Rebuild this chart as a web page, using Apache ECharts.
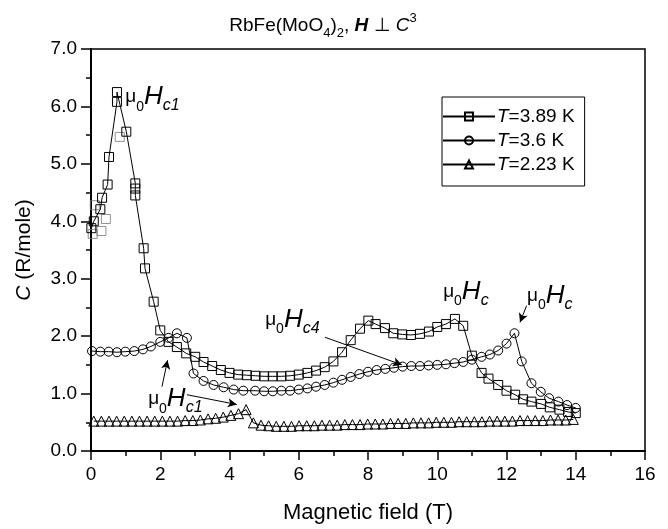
<!DOCTYPE html>
<html>
<head>
<meta charset="utf-8">
<script src="https://cdn.jsdelivr.net/npm/echarts@6/dist/echarts.min.js"></script>
<style>
  html, body { margin: 0; padding: 0; background: #fff; }
  #main { width: 668px; height: 529px; }
</style>
</head>
<body>
<div id="main"></div>
<script>
// Specific heat of RbFe(MoO4)2 versus magnetic field, H perpendicular to C3

// T = 3.89 K (squares)
const field389 = [0.01, 0.08, 0.27, 0.32, 0.48, 0.52, 0.75, 0.75, 1.02, 1.28, 1.28, 1.28, 1.52, 1.56, 1.81, 2.0, 2.24, 2.48, 2.75, 3.01, 3.25, 3.5, 3.75, 4.0, 4.25, 4.5, 4.75, 5.0, 5.25, 5.5, 5.75, 6.0, 6.25, 6.5, 6.75, 7.0, 7.25, 7.5, 7.77, 8.01, 8.22, 8.49, 8.73, 8.99, 9.24, 9.5, 9.76, 10.0, 10.25, 10.51, 10.75, 11.0, 11.28, 11.48, 11.76, 12.0, 12.25, 12.48, 12.72, 13.0, 13.25, 13.53, 13.78, 14.0];
const heat389  = [3.88, 4.0, 4.21, 4.41, 4.64, 5.12, 6.08, 6.25, 5.56, 4.66, 4.57, 4.45, 3.53, 3.18, 2.60, 2.10, 1.90, 1.81, 1.70, 1.64, 1.55, 1.48, 1.41, 1.36, 1.33, 1.32, 1.31, 1.30, 1.30, 1.30, 1.31, 1.33, 1.36, 1.40, 1.46, 1.56, 1.72, 1.93, 2.13, 2.27, 2.21, 2.14, 2.05, 2.03, 2.02, 2.04, 2.08, 2.16, 2.21, 2.30, 2.18, 1.66, 1.36, 1.26, 1.15, 1.05, 0.98, 0.90, 0.86, 0.82, 0.76, 0.72, 0.68, 0.66];

// T = 3.89 K, scattered low-field repeats (grey squares)
const field389b = [0.05, 0.11, 0.30, 0.43, 0.83];
const heat389b  = [3.78, 4.28, 3.83, 4.04, 5.47];

// T = 3.6 K (circles)
const field36 = [0.03, 0.27, 0.51, 0.75, 0.99, 1.25, 1.5, 1.73, 2.0, 2.24, 2.48, 2.77, 2.96, 3.25, 3.54, 3.83, 4.12, 4.4, 4.74, 5.0, 5.25, 5.5, 5.75, 6.0, 6.25, 6.5, 6.75, 7.0, 7.25, 7.5, 7.75, 8.0, 8.25, 8.5, 8.75, 9.0, 9.25, 9.5, 9.75, 10.0, 10.25, 10.5, 10.75, 11.0, 11.28, 11.52, 11.76, 12.0, 12.23, 12.44, 12.72, 12.99, 13.23, 13.5, 13.75, 14.0];
const heat36  = [1.74, 1.73, 1.73, 1.72, 1.73, 1.74, 1.77, 1.82, 1.90, 1.97, 2.05, 1.97, 1.35, 1.22, 1.15, 1.11, 1.07, 1.05, 1.05, 1.04, 1.04, 1.05, 1.05, 1.07, 1.09, 1.12, 1.15, 1.19, 1.24, 1.29, 1.34, 1.38, 1.41, 1.43, 1.45, 1.47, 1.48, 1.48, 1.49, 1.50, 1.51, 1.53, 1.55, 1.59, 1.64, 1.68, 1.75, 1.87, 2.05, 1.56, 1.18, 1.03, 0.92, 0.86, 0.80, 0.75];

// T = 2.23 K (triangles)
const field223 = [0.08, 0.30, 0.52, 0.74, 0.96, 1.18, 1.40, 1.62, 1.84, 2.06, 2.28, 2.50, 2.72, 2.94, 3.16, 3.38, 3.60, 3.82, 4.04, 4.26, 4.48, 4.69, 4.91, 5.13, 5.35, 5.57, 5.79, 6.01, 6.23, 6.45, 6.67, 6.89, 7.11, 7.33, 7.55, 7.77, 7.99, 8.21, 8.43, 8.65, 8.87, 9.09, 9.31, 9.53, 9.75, 9.97, 10.19, 10.41, 10.63, 10.85, 11.07, 11.29, 11.51, 11.73, 11.95, 12.17, 12.39, 12.61, 12.83, 13.05, 13.27, 13.49, 13.71, 13.93];
const heat223  = [0.52, 0.52, 0.52, 0.52, 0.52, 0.52, 0.52, 0.52, 0.52, 0.52, 0.52, 0.52, 0.53, 0.53, 0.54, 0.56, 0.57, 0.59, 0.62, 0.65, 0.72, 0.49, 0.45, 0.44, 0.43, 0.43, 0.43, 0.44, 0.44, 0.44, 0.45, 0.45, 0.45, 0.46, 0.46, 0.46, 0.47, 0.47, 0.47, 0.48, 0.48, 0.48, 0.49, 0.49, 0.49, 0.50, 0.50, 0.50, 0.51, 0.51, 0.51, 0.51, 0.52, 0.52, 0.52, 0.52, 0.53, 0.53, 0.53, 0.53, 0.54, 0.54, 0.54, 0.55];

// Axis ticks
const xTicks = { min: 0, max: 16, step: 2 };
const yTicks = { min: 0, max: 7, step: 1 };

// Annotation labels: [subscript, field, C] for the label's left-middle point
const labelAnchors = [
  ['c1', 0.99, 6.17],
  ['c4', 5.03, 2.29],
  ['c', 10.17, 2.78],
  ['c', 12.59, 2.71],
  ['c1', 1.65, 0.91]
];
// Arrows: [fromField, fromC, toField, toC]
const arrows = [
  [6.76, 1.98, 8.98, 1.50],
  [12.58, 2.53, 12.39, 2.24],
  [2.77, 0.98, 4.21, 0.81],
  [2.05, 1.12, 2.21, 1.58]
];

const FONT = 'Liberation Sans, Arial, Helvetica, sans-serif';

function zip(xs, ys) { return xs.map((x, i) => [x, ys[i]]); }

function lineSeries(name, xs, ys, symbol, size) {
  return {
    name: name,
    type: 'line',
    data: zip(xs, ys),
    symbol: symbol,
    symbolSize: size,
    showAllSymbol: true,
    animation: false,
    lineStyle: { color: '#000', width: 1 },
    itemStyle: { color: 'rgba(255,255,255,0)', borderColor: '#000', borderWidth: 1 },
    emphasis: { disabled: true },
    z: 3
  };
}

const chart = echarts.init(document.getElementById('main'));

const arrowSeries = {
  type: 'line',
  data: [],
  silent: true,
  animation: false,
  markLine: {
    silent: true,
    animation: false,
    symbol: ['none', 'arrow'],
    symbolSize: [7, 9],
    label: { show: false },
    lineStyle: { color: '#000', width: 1, type: 'solid' },
    emphasis: { disabled: true },
    data: arrows.map(a => [{ coord: [a[0], a[1]] }, { coord: [a[2], a[3]] }])
  }
};

const tickStyle = { color: '#000', width: 1.5 };

chart.setOption({
  backgroundColor: '#fff',
  animation: false,
  title: {
    text: 'RbFe(MoO{sub|4}){sub|2}, {bi|H} ⊥ {i|C}{sup|3}',
    left: 318,
    textAlign: 'center',
    top: 7,
    textStyle: {
      fontFamily: FONT, fontSize: 19, fontWeight: 'normal', color: '#000',
      rich: {
        sub: { fontFamily: FONT, fontSize: 13, color: '#000', verticalAlign: 'bottom', lineHeight: 28 },
        sup: { fontFamily: FONT, fontSize: 13, color: '#000', verticalAlign: 'top', lineHeight: 26 },
        bi: { fontFamily: FONT, fontSize: 19, fontWeight: 'bold', fontStyle: 'italic', color: '#000' },
        i: { fontFamily: FONT, fontSize: 19, fontStyle: 'italic', color: '#000' }
      }
    }
  },
  legend: {
    orient: 'vertical',
    left: 442,
    top: 97,
    itemWidth: 52,
    itemHeight: 10,
    itemGap: 5,
    padding: [10, 10, 12, 0],
    borderColor: '#000',
    borderWidth: 1,
    data: ['T=3.89 K', 'T=3.6 K', 'T=2.23 K'],
    formatter: name => '{i|T}' + name.slice(1),
    textStyle: {
      fontFamily: FONT, fontSize: 19, lineHeight: 19, color: '#000', padding: [0, 0, 0, -3],
      rich: { i: { fontFamily: FONT, fontSize: 19, fontStyle: 'italic', color: '#000' } }
    }
  },
  grid: {
    left: 91, right: 23, top: 49, bottom: 74,
    show: true, borderColor: '#000', borderWidth: 1.5, backgroundColor: 'transparent'
  },
  xAxis: {
    type: 'value',
    min: xTicks.min, max: xTicks.max, interval: xTicks.step,
    name: 'Magnetic field (T)',
    nameLocation: 'middle',
    nameGap: 51,
    nameTextStyle: { fontFamily: FONT, fontSize: 22, color: '#000' },
    axisLine: { onZero: false, lineStyle: { color: '#000', width: 2 } },
    axisTick: { show: true, inside: false, length: 9, lineStyle: tickStyle },
    minorTick: { show: true, splitNumber: 2, length: 5, lineStyle: tickStyle },
    splitLine: { show: false },
    axisLabel: { fontFamily: FONT, fontSize: 19, color: '#000', margin: 14 }
  },
  yAxis: {
    type: 'value',
    min: yTicks.min, max: yTicks.max, interval: yTicks.step,
    name: '{i|C} (R/mole)',
    nameLocation: 'middle',
    nameGap: 56,
    nameRotate: 90,
    nameTextStyle: {
      fontFamily: FONT, fontSize: 21, color: '#000',
      rich: { i: { fontFamily: FONT, fontSize: 21, fontStyle: 'italic', color: '#000' } }
    },
    axisLine: { onZero: false, lineStyle: { color: '#000', width: 2 } },
    axisTick: { show: true, inside: false, length: 10, lineStyle: tickStyle },
    minorTick: { show: true, splitNumber: 2, length: 5, lineStyle: tickStyle },
    splitLine: { show: false },
    axisLabel: { fontFamily: FONT, fontSize: 19, color: '#000', margin: 14, formatter: v => v.toFixed(1) }
  },
  series: [
    lineSeries('T=3.89 K', field389, heat389, 'rect', 9),
    lineSeries('T=3.6 K', field36, heat36, 'circle', 9),
    lineSeries('T=2.23 K', field223, heat223, 'triangle', 10),
    {
      type: 'scatter',
      data: zip(field389b, heat389b),
      symbol: 'rect',
      symbolSize: 9,
      animation: false,
      itemStyle: { color: 'rgba(255,255,255,0)', borderColor: '#777', borderWidth: 1 },
      emphasis: { disabled: true },
      z: 2
    },
    arrowSeries
  ]
});

// Field labels (mu_0 H_c...) placed at data coordinates
const annRich = {
  mu: { fontFamily: FONT, fontSize: 19, color: '#000', verticalAlign: 'middle', lineHeight: 30 },
  z: { fontFamily: FONT, fontSize: 14, color: '#000', verticalAlign: 'bottom', lineHeight: 30 },
  h: { fontFamily: FONT, fontSize: 26, fontStyle: 'italic', color: '#000', lineHeight: 30 },
  s: { fontFamily: FONT, fontSize: 16, fontStyle: 'italic', color: '#000', verticalAlign: 'bottom', lineHeight: 34 }
};
const graphics = labelAnchors.map(a => {
  const p = chart.convertToPixel({ gridIndex: 0 }, [a[1], a[2]]);
  return {
    type: 'text',
    x: p[0], y: p[1],
    silent: true,
    style: {
      text: '{mu|μ}{z|0}{h|H}{s|' + a[0] + '}',
      rich: annRich,
      verticalAlign: 'middle',
      align: 'left'
    }
  };
});
chart.setOption({ graphic: graphics });
</script>
</body>
</html>
